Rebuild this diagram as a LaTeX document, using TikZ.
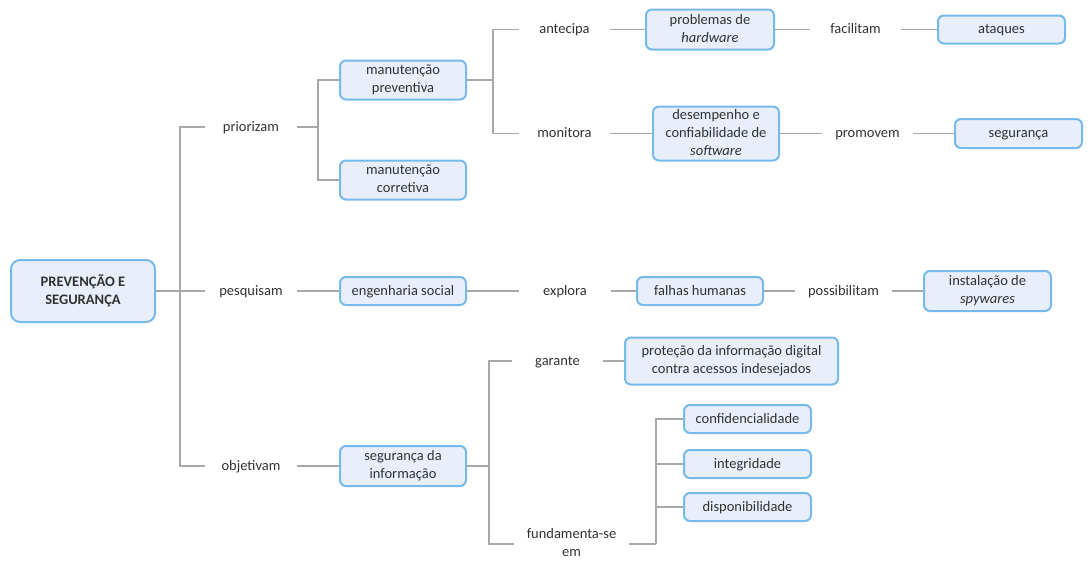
\documentclass[tikz,border=0pt]{standalone}
\usepackage{fontspec}
\setmainfont{Carlito}
\definecolor{boxfill}{RGB}{232,239,251}
\definecolor{boxdraw}{RGB}{118,185,235}
\definecolor{linec}{RGB}{168,168,168}
\definecolor{txt}{RGB}{50,50,50}
\newcommand{\fstrut}{\rule[-2.5pt]{0pt}{13.5pt}}
\begin{document}
\begin{tikzpicture}[x=1pt,y=-1pt,
  txtfont/.style={font=\fontsize{14.5}{18}\selectfont, execute at begin node=\fstrut, execute at end node=\fstrut},
  box/.style={draw=boxdraw, fill=boxfill, line width=2pt, rounded corners=6pt,
    minimum width=126pt, minimum height=28pt, align=center, text=txt, txtfont, inner sep=2pt},
  lbl/.style={minimum width=91pt, inner xsep=13pt, inner ysep=2pt, align=center, text=txt, txtfont},
  conn/.style={draw=linec, line width=1.4pt}]
\useasboundingbox (0,0) rectangle (1090,568);
% nodes
\node[box, minimum width=144pt, minimum height=62pt, rounded corners=9pt, font=\fontsize{14.5}{18}\selectfont\bfseries] (root) at (83,291) {PREVENÇÃO E\\SEGURANÇA};
\node[lbl] (lpr) at (251,127) {priorizam};
\node[lbl] (lpe) at (251,291) {pesquisam};
\node[lbl] (lob) at (251,466) {objetivam};
\node[box, minimum height=39pt] (pv) at (403,80) {manutenção\\preventiva};
\node[box, minimum height=39pt] (co) at (403,180) {manutenção\\corretiva};
\node[lbl] (lan) at (564.5,29.5) {antecipa};
\node[lbl] (lmo) at (564.5,133.5) {monitora};
\node[box, minimum width=128pt, minimum height=40pt] (hw) at (710,29.5) {problemas de\\\textit{hardware}};
\node[lbl] (lfa) at (855.5,29.5) {facilitam};
\node[box, minimum width=127pt] (at) at (1001.5,29.5) {ataques};
\node[box, minimum height=54pt] (sw) at (716,133.5) {desempenho e\\confiabilidade de\\\textit{software}};
\node[lbl] (lpm) at (867.5,133.5) {promovem};
\node[box, minimum width=127pt, minimum height=29pt] (sg) at (1018.5,133.5) {segurança};
\node[box] (es) at (403,291) {engenharia social};
\node[lbl] (lex) at (565,291) {explora};
\node[box] (fh) at (700,291) {falhas humanas};
\node[lbl] (lpo) at (843.5,291) {possibilitam};
\node[box, minimum width=127pt, minimum height=40pt] (sp) at (987.5,291) {instalação de\\\textit{spywares}};
\node[box, minimum height=40pt] (si) at (403,466) {segurança da\\informação};
\node[lbl] (lga) at (557.5,361) {garante};
\node[box, minimum width=213pt, minimum height=47pt] (pr) at (731.5,361) {proteção da informação digital\\contra acessos indesejados};
\node[lbl] (lfu) at (571.5,544) {fundamenta-se\\em};
\node[box, minimum width=127pt] (cf) at (747.5,419) {confidencialidade};
\node[box, minimum width=127pt] (ig) at (747.5,464) {integridade};
\node[box, minimum width=127pt] (dp) at (747.5,507) {disponibilidade};
% trunk coordinates
\coordinate (t0) at (180,291);
\coordinate (t1) at (318,127);
\coordinate (t2) at (493,80);
\coordinate (t3) at (489,466);
\coordinate (t4) at (656,544);
% connectors
\draw[conn] (root.east) -- (lpe.west);
\draw[conn] (t0) |- (lpr.west);
\draw[conn] (t0) |- (lob.west);
\draw[conn] (lpr.east) -- (t1);
\draw[conn] (t1) |- (pv.west);
\draw[conn] (t1) |- (co.west);
\draw[conn] (pv.east) -- (t2);
\draw[conn] (t2) |- (lan.west);
\draw[conn] (t2) |- (lmo.west);
\draw[conn] (lan.east) -- (hw.west);
\draw[conn] (hw.east) -- (lfa.west);
\draw[conn] (lfa.east) -- (at.west);
\draw[conn] (lmo.east) -- (sw.west);
\draw[conn] (sw.east) -- (lpm.west);
\draw[conn] (lpm.east) -- (sg.west);
\draw[conn] (lpe.east) -- (es.west);
\draw[conn] (es.east) -- (lex.west);
\draw[conn] (lex.east) -- (fh.west);
\draw[conn] (fh.east) -- (lpo.west);
\draw[conn] (lpo.east) -- (sp.west);
\draw[conn] (lob.east) -- (si.west);
\draw[conn] (si.east) -- (t3);
\draw[conn] (t3) |- (lga.west);
\draw[conn] (t3) |- (lfu.west);
\draw[conn] (lga.east) -- (pr.west);
\draw[conn] (lfu.east) -- (t4);
\draw[conn] (t4) |- (cf.west);
\draw[conn] (ig.west) -- (ig.west -| t4);
\draw[conn] (dp.west) -- (dp.west -| t4);
\end{tikzpicture}
\end{document}
